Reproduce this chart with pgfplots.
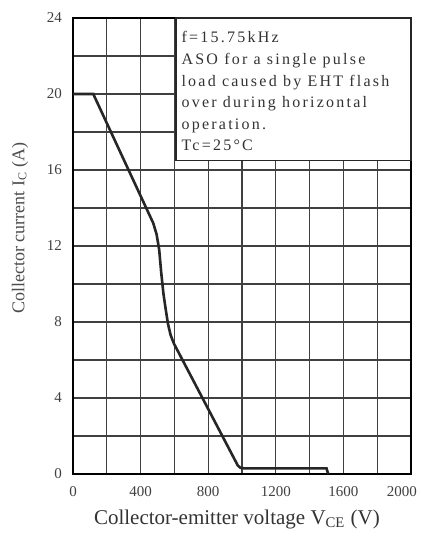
\documentclass[border=0pt]{standalone}
\usepackage{fontspec}
\setmainfont{Liberation Serif}
\newfontfamily\boxfont[LetterSpace=14]{Liberation Serif}
\usepackage{pgfplots}
\pgfplotsset{compat=1.18}
\begin{document}
\begin{tikzpicture}
\useasboundingbox (0,0) rectangle (210.5pt,270pt);
\begin{axis}[
  at={(36.5pt,33pt)}, anchor=south west,
  scale only axis, width=169pt, height=228pt,
  xmin=0, xmax=2000, ymin=0, ymax=24,
  xtick={0,400,...,2000}, minor xtick={200,600,...,1800},
  xticklabels={0,400,800,1200,1600,\makebox[6pt][r]{2000}},
  ytick={0,4,...,24}, minor ytick={2,6,...,22},
  grid=both,
  major grid style={black!75, line width=0.6pt},
  minor grid style={black!75, line width=0.6pt},
  axis line style={black, line width=0.9pt},
  major tick length=0pt, minor tick length=0pt,
  /pgf/number format/assume math mode=true,
  /pgf/number format/1000 sep={},
  tick label style={font=\fontsize{7.5}{9}\selectfont, text=black!75},
  xticklabel style={yshift=-2.5pt},
  yticklabel style={xshift=-2pt},
  xlabel={Collector-emitter voltage V\textsubscript{CE} (V)},
  ylabel={Collector current I\textsubscript{C} (A)},
  xlabel style={font=\fontsize{10.5}{12}\selectfont, text=black!80, at={(axis description cs:0.485,-0.10)}, anchor=center},
  ylabel style={font=\fontsize{9}{10}\selectfont, text=black!70, at={(axis description cs:-0.157,0.54)}, anchor=center},
  clip=false,
]
\addplot[black!85, line width=1.3pt] coordinates {
  (0,20) (120,20) (475,13.2) (495,12.6) (510,11.8) (522,10.6) (535,9.5) (548,8.7)
  (562,7.9) (578,7.3) (598,6.85) (975,0.45) (990,0.33) (1010,0.3) (1500,0.3) (1510,0)
};
\draw[black!85, line width=0.8pt, fill=white] (axis cs:610,16.5) rectangle (axis cs:2000,24);
\node[anchor=north west, align=left, inner sep=0pt, text=black!80,
  font=\boxfont\fontsize{8}{10.8}\selectfont] at (axis cs:640,23.3)
  {f=15.75kHz\\ASO for a single pulse\\load caused by EHT flash\\over during horizontal\\operation.\\Tc=25\textdegree C};
\end{axis}
\end{tikzpicture}
\end{document}
